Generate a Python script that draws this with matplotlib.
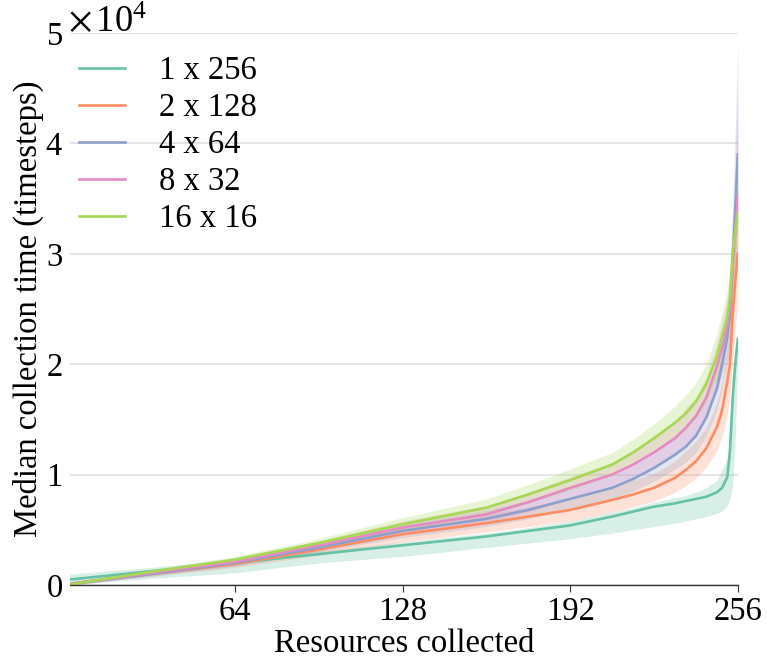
import matplotlib
matplotlib.use("Agg")
import matplotlib.pyplot as plt
import numpy as np
from matplotlib.ticker import ScalarFormatter

plt.rcParams['font.family'] = ['Liberation Serif', 'DejaVu Serif']
plt.rcParams['mathtext.fontset'] = 'stix'

resources = [1, 32, 64, 96, 128, 160, 176, 192, 208, 216, 224, 232, 236, 240, 244, 248, 250, 252, 253, 254, 255, 256]

labels = ["1 x 256", "2 x 128", "4 x 64", "8 x 32", "16 x 16"]
colors = ['#66c2a5', '#fc8d62', '#8da0cb', '#e78ac3', '#a6d854']

# medians and bands (x 1e4 timesteps)
med_1x256 = [0.05, 0.125, 0.20, 0.28, 0.36, 0.44, 0.49, 0.54, 0.62, 0.665, 0.71, 0.74, 0.76, 0.78, 0.80, 0.84, 0.88, 0.98, 1.22, 1.68, 2.0, 2.23]
lo_1x256 = [0.0, 0.06, 0.11, 0.20, 0.26, 0.34, 0.38, 0.42, 0.47, 0.50, 0.53, 0.56, 0.58, 0.60, 0.62, 0.65, 0.67, 0.72, 0.78, 0.9, 1.3, 2.1]
hi_1x256 = [0.10, 0.16, 0.23, 0.31, 0.39, 0.47, 0.52, 0.58, 0.66, 0.70, 0.75, 0.79, 0.81, 0.84, 0.88, 0.95, 1.05, 1.15, 1.4, 1.95, 2.15, 2.3]

med_2x128 = [0.01, 0.10, 0.19, 0.32, 0.46, 0.56, 0.62, 0.68, 0.77, 0.82, 0.88, 0.97, 1.04, 1.12, 1.24, 1.43, 1.58, 1.85, 2.0, 2.43, 2.75, 3.0]
lo_2x128 = [0.0, 0.08, 0.16, 0.27, 0.39, 0.48, 0.53, 0.58, 0.66, 0.71, 0.76, 0.84, 0.90, 0.97, 1.07, 1.22, 1.35, 1.55, 1.7, 2.0, 2.3, 2.6]
hi_2x128 = [0.03, 0.12, 0.22, 0.37, 0.52, 0.64, 0.71, 0.78, 0.89, 0.95, 1.01, 1.12, 1.21, 1.30, 1.43, 1.65, 1.83, 2.12, 2.35, 2.8, 3.2, 3.6]

med_4x64 = [0.01, 0.10, 0.20, 0.34, 0.49, 0.60, 0.68, 0.78, 0.88, 0.96, 1.06, 1.18, 1.25, 1.35, 1.52, 1.78, 2.0, 2.25, 2.45, 2.9, 3.4, 3.9]
lo_4x64 = [0.0, 0.08, 0.17, 0.30, 0.43, 0.53, 0.60, 0.69, 0.78, 0.85, 0.94, 1.05, 1.11, 1.20, 1.35, 1.58, 1.78, 2.0, 2.18, 2.55, 2.95, 3.3]
hi_4x64 = [0.03, 0.12, 0.23, 0.38, 0.55, 0.68, 0.77, 0.88, 0.99, 1.08, 1.19, 1.33, 1.41, 1.52, 1.71, 2.0, 2.25, 2.55, 2.8, 3.4, 4.1, 4.9]

med_8x32 = [0.01, 0.11, 0.21, 0.36, 0.52, 0.64, 0.75, 0.88, 1.0, 1.09, 1.2, 1.33, 1.42, 1.53, 1.70, 1.98, 2.15, 2.35, 2.55, 2.9, 3.2, 3.52]
lo_8x32 = [0.0, 0.09, 0.18, 0.32, 0.46, 0.57, 0.66, 0.78, 0.89, 0.97, 1.07, 1.18, 1.26, 1.36, 1.51, 1.76, 1.91, 2.09, 2.27, 2.58, 2.85, 3.1]
hi_8x32 = [0.03, 0.13, 0.24, 0.40, 0.58, 0.72, 0.84, 0.98, 1.11, 1.22, 1.33, 1.48, 1.60, 1.70, 1.89, 2.2, 2.39, 2.61, 2.83, 3.3, 3.8, 4.5]

med_16x16 = [0.005, 0.12, 0.23, 0.38, 0.55, 0.70, 0.82, 0.95, 1.09, 1.20, 1.33, 1.47, 1.55, 1.66, 1.82, 2.07, 2.25, 2.43, 2.6, 3.0, 3.2, 3.37]
lo_16x16 = [0.0, 0.10, 0.20, 0.34, 0.50, 0.63, 0.74, 0.86, 0.99, 1.09, 1.21, 1.34, 1.40, 1.51, 1.66, 1.88, 2.05, 2.2, 2.37, 2.7, 2.9, 3.05]
hi_16x16 = [0.02, 0.14, 0.26, 0.42, 0.61, 0.78, 0.91, 1.05, 1.20, 1.32, 1.46, 1.62, 1.72, 1.83, 2.0, 2.28, 2.48, 2.68, 2.87, 3.3, 3.55, 4.0]

medians = [med_1x256, med_2x128, med_4x64, med_8x32, med_16x16]
lows = [lo_1x256, lo_2x128, lo_4x64, lo_8x32, lo_16x16]
highs = [hi_1x256, hi_2x128, hi_4x64, hi_8x32, hi_16x16]
scale = 1e4
scale_exp = 4

x_ticks = [64, 128, 192, 256]
y_ticks = [0, 10000, 20000, 30000, 40000, 50000]

FS = 23.5

fig = plt.figure(figsize=(7.67, 6.6), dpi=100)
ax = fig.add_axes([0.091, 0.1136, 0.871, 0.8364])

x = np.array(resources)
for lab, c, m, lo, hi in zip(labels, colors, medians, lows, highs):
    ax.fill_between(x, np.array(lo) * scale, np.array(hi) * scale, color=c, alpha=0.25, lw=0)
for lab, c, m in zip(labels, colors, medians):
    ax.plot(x, np.array(m) * scale, color=c, lw=1.9, label=lab)

ax.set_xlim(1, 256)
ax.set_ylim(0, 50000)
ax.set_xticks(x_ticks)
ax.set_yticks(y_ticks)
fmt = ScalarFormatter(useMathText=True)
fmt.set_powerlimits((0, 0))
ax.yaxis.set_major_formatter(fmt)
ax.yaxis.get_offset_text().set_visible(False)
ax.annotate(r'$\times\,\mathdefault{10}^{\mathdefault{%d}}$' % scale_exp, xy=(0, 1),
            xycoords='axes fraction', xytext=(-1, 0.5), textcoords='offset points',
            ha='left', va='baseline', fontsize=FS * 1.12)

ax.grid(axis='y', color='#e3e3e3', lw=1.3)
ax.set_axisbelow(True)
for s in ['top', 'right', 'left']:
    ax.spines[s].set_visible(False)
ax.spines['bottom'].set_color('#333333')
ax.spines['bottom'].set_linewidth(1.0)
ax.tick_params(axis='x', labelsize=FS, length=5, color='#333333', pad=3)
ax.tick_params(axis='y', labelsize=FS, length=0, pad=5)

ax.set_xlabel("Resources collected", fontsize=FS, labelpad=1)
ax.set_ylabel("Median collection time (timesteps)", fontsize=FS, labelpad=0.5)

ax.legend(loc='upper left', frameon=False, fontsize=FS, handlelength=1.4,
          handletextpad=1.05, labelspacing=0.2, bbox_to_anchor=(-0.02, 1.0),
          borderaxespad=0.3)

fig.savefig("out.png", dpi=100)
